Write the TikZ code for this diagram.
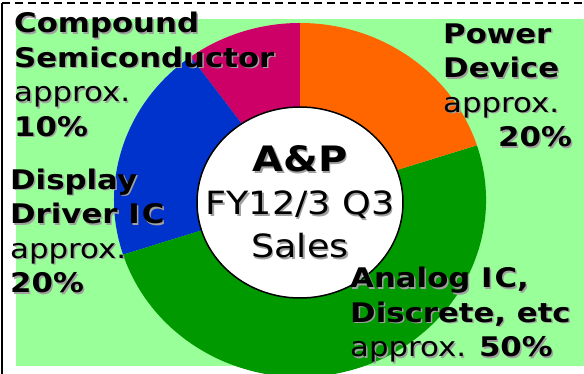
\documentclass[tikz,border=0pt]{standalone}
\usepackage{fontspec}
\setmainfont[FakeStretch=1.14]{DejaVu Sans}
\usetikzlibrary{positioning, calc}
\definecolor{bggreen}{HTML}{99FF99}
\definecolor{compcol}{HTML}{CC0066}
\definecolor{dispcol}{HTML}{0033CC}
\definecolor{analcol}{HTML}{009900}
\definecolor{powcol}{HTML}{FF6600}
\definecolor{shadowgray}{HTML}{A0A0A0}
% text with a soft drop shadow
\newcommand{\sh}[1]{\makebox[0pt][l]{\hspace{1.5pt}\raisebox{-1.5pt}{\color{shadowgray}#1}}#1}

\begin{document}
\begin{tikzpicture}[x=1pt, y=1pt,
    lbl/.style={font=\fontsize{27}{34.5}\selectfont, inner sep=0pt, align=left, anchor=base west}]
    \useasboundingbox (0,0) rectangle (584,374);
    \fill[bggreen] (16,8) rectangle (584,355);
    \draw[line width=1.3pt, dash pattern=on 8pt off 5pt] (2,371) -- (584,371);
    \draw[line width=2pt] (2,371) -- (2,0);
    % donut
    \coordinate (c) at (300,174);
    \foreach \a/\b/\col in {90/126/compcol, 126/198/dispcol, 198/378/analcol, 18/90/powcol}
        \fill[\col] (c) -- ++({186*cos(\a)},{177*sin(\a)})
            arc[start angle=\a, end angle=\b, x radius=186, y radius=177] -- cycle;
    \draw[line width=1.5pt, fill=white] (300,171.5) ellipse[x radius=103, y radius=95.5];
    % labels (anchored on the last baseline)
    \node[lbl] (comp) at (14,237.5) {\sh{\textbf{Compound}}\\ \sh{\textbf{Semiconductor}}\\ \sh{approx.}\\ \sh{\textbf{10\%}}};
    \node[lbl] (pow) at (443,227) {\sh{\textbf{Power}}\\ \sh{\textbf{Device}}\\ \sh{approx.}\\ \hspace*{55pt}\sh{\textbf{20\%}}};
    \node[lbl] (disp) at (10,81) {\sh{\textbf{Display}}\\ \sh{\textbf{Driver I\kern2pt C}}\\ \sh{approx.}\\ \sh{\textbf{20\%}}};
    \node[lbl] (anal) at (350,17) {\sh{\textbf{Analog I\kern2pt C,}}\\ \sh{\textbf{Discrete, etc}}\\ \sh{approx. \textbf{50\%}}};
    \node[font=\fontsize{32}{43}\selectfont, inner sep=0pt, align=center, anchor=base] (ttl) at (300,116)
        {{\fontsize{35}{43}\selectfont\sh{\textbf{A\&P}}}\\ \sh{FY12/3 Q3}\\ \sh{Sales}};
\end{tikzpicture}
\end{document}
